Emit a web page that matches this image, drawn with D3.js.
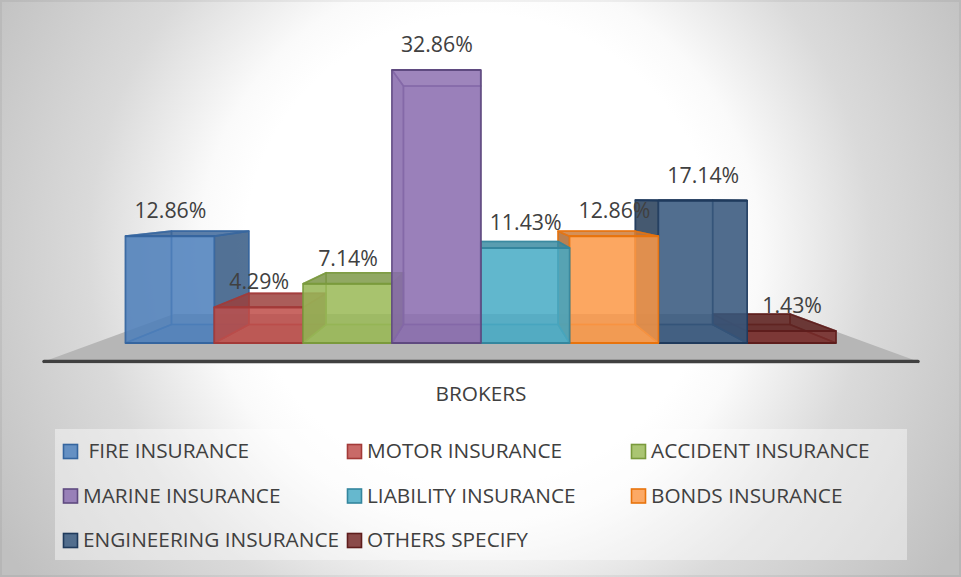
<!DOCTYPE html>
<html><head><meta charset="utf-8">
<script src="https://cdnjs.cloudflare.com/ajax/libs/d3/7.8.5/d3.min.js"></script>
<style>html,body{margin:0;padding:0;background:#fff}svg{display:block}text{font-family:"Open Sans",sans-serif;fill:#404040}</style>
</head><body><svg id="c" width="961" height="577"></svg>
<script>
const categories=[" FIRE INSURANCE","MOTOR INSURANCE","ACCIDENT INSURANCE","MARINE INSURANCE","LIABILITY INSURANCE","BONDS INSURANCE","ENGINEERING INSURANCE","OTHERS SPECIFY"];
const values=[12.86,4.29,7.14,32.86,11.43,12.86,17.14,1.43];
const labels=["12.86%","4.29%","7.14%","32.86%","11.43%","12.86%","17.14%","1.43%"];
const fills=["#4f81bd","#c0504d","#9bbb59","#8b6eb0","#4bacc6","#fb9a4a","#38597f","#772c2a"];
const strokes=["#35659f","#a33a38","#7a9a3c","#5f4a80","#34869e","#e8730c","#1f3a5c","#5e1d1c"];
const axisTitle="BROKERS";

const W=961,H=577;
const svg=d3.select("#c");
const defs=svg.append("defs");
const g=defs.append("radialGradient").attr("id","bg").attr("gradientUnits","userSpaceOnUse").attr("cx",480).attr("cy",250).attr("r",560);
[[0,"#ffffff"],[.42,"#ffffff"],[.5,"#fafafa"],[.7,"#dadada"],[1,"#c0c0c0"]].forEach(s=>g.append("stop").attr("offset",s[0]).attr("stop-color",s[1]));
svg.append("rect").attr("width",W).attr("height",H).attr("fill","url(#bg)");
svg.append("rect").attr("x",1).attr("y",1).attr("width",W-2).attr("height",H-2).attr("fill","none").attr("stroke","#000").attr("stroke-opacity",.05).attr("stroke-width",2);

const xFront=d3.scaleBand().domain(d3.range(values.length)).range([125.5,836]).padding(0);
const xBack=d3.scaleLinear().domain([125.5,836]).range([171.5,790]);
const yFront=d3.scaleLinear().domain([0,32.86]).range([343,70]);
const yBack=d3.scaleLinear().domain([0,32.86]).range([324.5,86]);

const fy0=361.5,fy1=314;
svg.append("polygon").attr("points",[[44,fy0],[174,fy1],[788,fy1],[918,fy0]].join(" ")).attr("fill","#b6b6b6");
svg.append("line").attr("x1",44).attr("x2",918).attr("y1",fy0+1.5).attr("y2",fy0+1.5).attr("stroke","#f8f8f8").attr("stroke-width",2);
svg.append("line").attr("x1",44).attr("x2",918).attr("y1",fy0).attr("y2",fy0).attr("stroke","#404040").attr("stroke-width",3.5).attr("stroke-linecap","round");

const centre=480;
const order=d3.range(values.length).sort((a,b)=>{
  const da=Math.abs(xFront(a)+xFront.bandwidth()/2-centre),db=Math.abs(xFront(b)+xFront.bandwidth()/2-centre);
  return db-da;});
const bars=svg.append("g").selectAll("g").data(order).join("g");
bars.each(function(i){
  const x0=xFront(i),x1=x0+xFront.bandwidth(),bx0=xBack(x0),bx1=xBack(x1);
  const v=values[i],yf=yFront(v),yb=yBack(v),y0=yFront(0),yb0=yBack(0);
  const base=d3.color(fills[i]);
  const face=(pts,fill,op)=>d3.select(this).append("polygon").attr("points",pts.join(" "))
    .attr("fill",fill).attr("fill-opacity",op).attr("stroke",strokes[i]).attr("stroke-width",1.6).attr("stroke-linejoin","round").attr("stroke-opacity",.75);
  const hiddenTop=yb>yf;
  face([[bx0,yb],[bx1,yb],[bx1,yb0],[bx0,yb0]],base.formatHex(),.3);
  face([[x0,y0],[x1,y0],[bx1,yb0],[bx0,yb0]],base.darker(.4).formatHex(),.5);
  face([[x0,yf],[bx0,yb],[bx0,yb0],[x0,y0]],base.darker(1.1).formatHex(),bx0<x0?.8:.3);
  face([[x1,yf],[bx1,yb],[bx1,yb0],[x1,y0]],base.darker(1.1).formatHex(),bx1>x1?.8:.3);
  face([[x0,yf],[x1,yf],[bx1,yb],[bx0,yb]],base.darker(.6).formatHex(),hiddenTop?.1:.8);
  face([[x0,yf],[x1,yf],[x1,y0],[x0,y0]],base.formatHex(),.82);
  d3.select(this).append("line").attr("x1",x0).attr("x2",x1).attr("y1",yf).attr("y2",yf).attr("stroke",strokes[i]).attr("stroke-width",2);
  d3.select(this).append("line").attr("x1",x0).attr("x2",x1).attr("y1",y0).attr("y2",y0).attr("stroke",strokes[i]).attr("stroke-width",2);
});

svg.append("g").selectAll("text").data(values).join("text")
  .attr("x",(d,i)=>xFront(i)+xFront.bandwidth()/2+.5).attr("y",d=>yFront(d)-18)
  .attr("text-anchor","middle").attr("font-size",21.3).text((d,i)=>labels[i]);

svg.append("text").attr("x",481).attr("y",400.5).attr("text-anchor","middle").attr("font-size",20.8).text(axisTitle);

svg.append("rect").attr("x",55).attr("y",429).attr("width",852).attr("height",131).attr("fill","#fff").attr("fill-opacity",.42);
const colX=d3.scalePoint().domain([0,1,2]).range([63.5,631.5]);
const rowY=d3.scalePoint().domain([0,1,2]).range([451.5,540.5]);
const lg=svg.append("g").selectAll("g").data(categories).join("g")
  .attr("transform",(d,i)=>`translate(${colX(i%3)},${rowY(Math.floor(i/3))})`);
lg.append("rect").attr("x",0).attr("y",-7).attr("width",14).attr("height",14)
  .attr("fill",(d,i)=>fills[i]).attr("fill-opacity",.85).attr("stroke",(d,i)=>strokes[i]).attr("stroke-width",1.6);
lg.append("text").attr("x",19.5).attr("y",6.5).attr("font-size",20.8).attr("xml:space","preserve").style("white-space","pre").text(d=>d);
</script></body></html>
